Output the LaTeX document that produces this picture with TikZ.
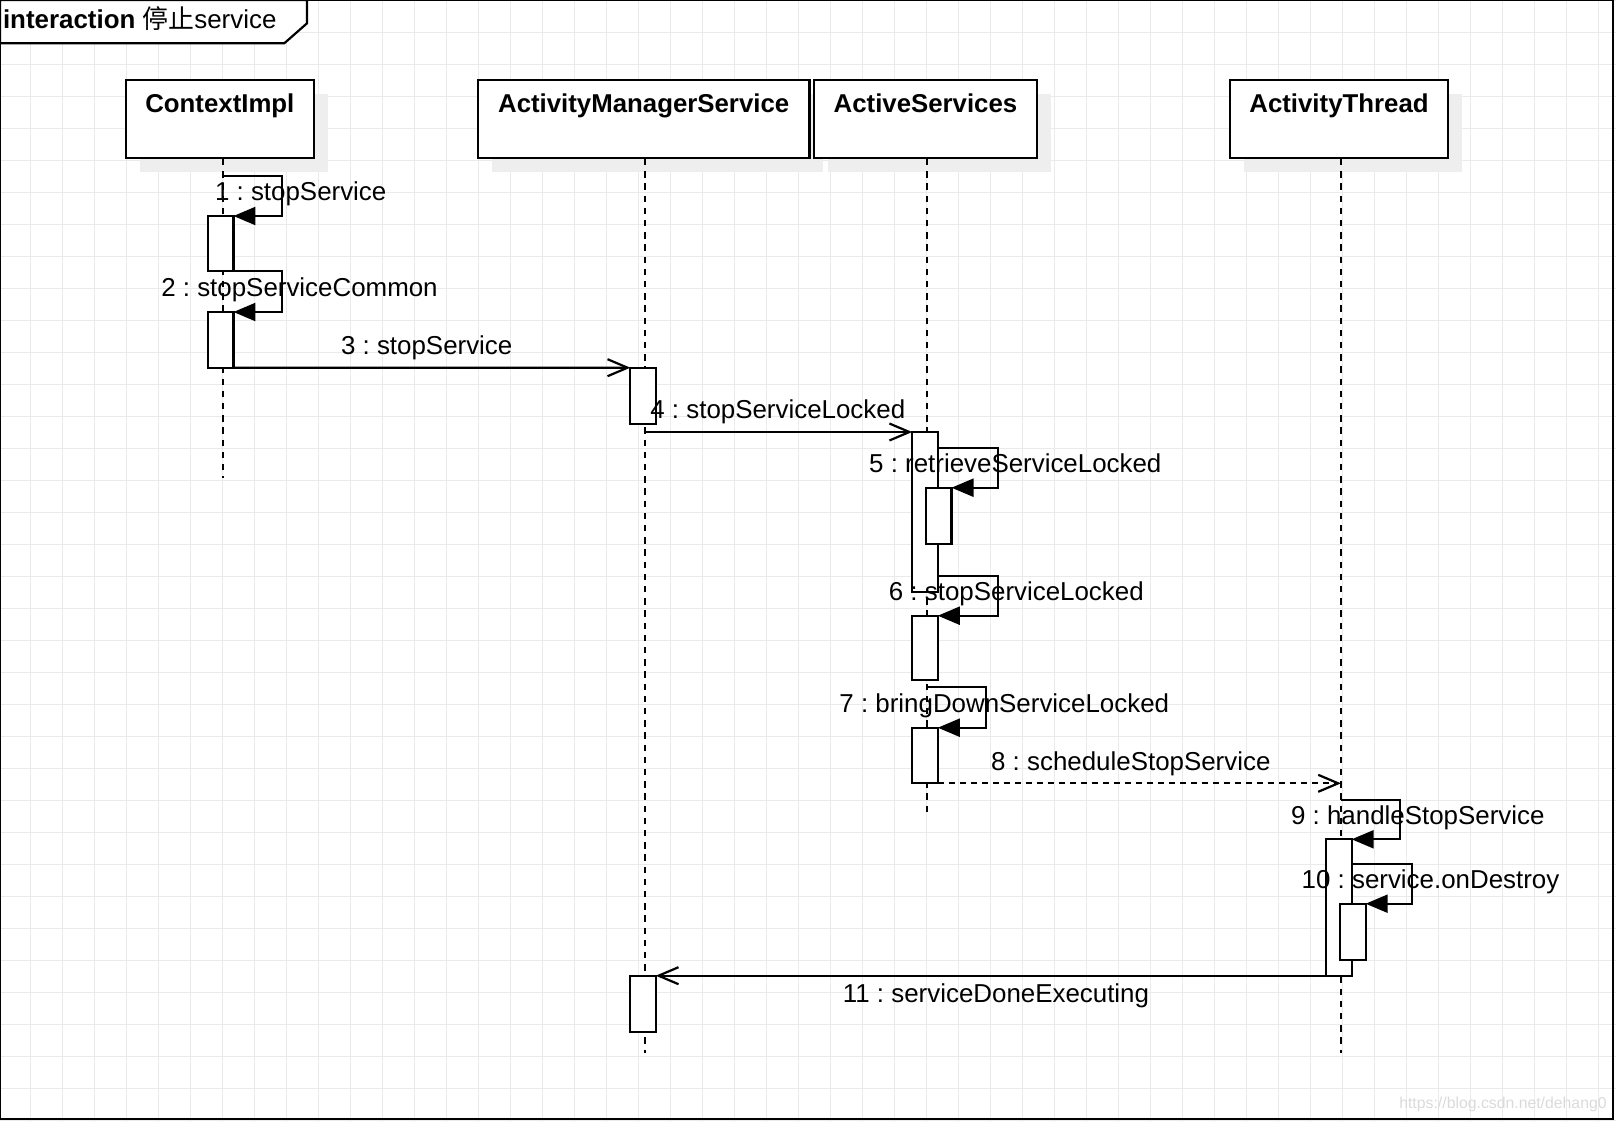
\documentclass[tikz,border=0pt]{standalone}
\usepackage{fontspec}
\setmainfont{Liberation Sans}
\newfontfamily\cjkfont{Noto Sans CJK SC}
\usetikzlibrary{arrows.meta,shadows}
\definecolor{gridc}{HTML}{EAEAEA}
\definecolor{shadowc}{HTML}{EEEEEE}
\definecolor{markc}{HTML}{DADADA}
\frenchspacing
\begin{document}
\begin{tikzpicture}[x=1pt,y=-1pt,
  every node/.style={font=\fontsize{25.9pt}{30pt}\selectfont\frenchspacing, inner sep=0pt, outer sep=0pt},
  head/.style={draw, line width=2.2pt, fill=white,
    general shadow={fill=shadowc, shadow xshift=14pt, shadow yshift=-14pt},
    minimum height=77.7pt},
  headtext/.style={font=\fontsize{25.8pt}{30pt}\selectfont\bfseries, anchor=base},
  lifeline/.style={line width=2pt, dash pattern=on 6.3pt off 5.9pt},
  act/.style={draw, line width=2.2pt, fill=white, minimum width=25.6pt},
  selfmsg/.style={line width=2.2pt, -{Triangle[length=22pt,width=18pt]}},
  callmsg/.style={line width=2.2pt, -{Straight Barb[length=20pt,width=17pt]}},
  retmsg/.style={callmsg, dash pattern=on 6pt off 5pt},
  msglabel/.style={anchor=base},
]
\useasboundingbox (0,0) rectangle (1616,1122);
% grid
\foreach \k in {1,...,50} \draw[gridc, line width=1pt] (32*\k-1.5,0) -- (32*\k-1.5,1122);
\foreach \k in {0,...,35} \draw[gridc, line width=1pt] (0,32*\k+0.3) -- (1616,32*\k+0.3);
% frame
\draw[line width=2.2pt] (0,0) rectangle (1613,1119);
\draw[line width=2.2pt, fill=white] (0,0) -- (307,0) -- (307,23.3) -- (284.3,43.3) -- (0,43.3) -- cycle;
\node[anchor=base west] (title) at (3,28.3) {\textbf{interaction} {\cjkfont 停止}service};

% heads
\node[head, minimum width=188.3pt] (ctx) at (219.85,118.85) {};
\node[head, minimum width=331.4pt] (ams) at (643.7,118.85) {};
\node[head, minimum width=223pt] (as) at (925.5,118.85) {};
\node[head, minimum width=218.6pt] (at) at (1339,118.85) {};
\node[headtext] (ctxT) at (219.85,112.7) {ContextImpl};
\node[headtext] (amsT) at (643.7,112.7) {ActivityManagerService};
\node[headtext] (asT) at (925.5,112.7) {ActiveServices};
\node[headtext] (atT) at (1339,112.7) {ActivityThread};

% lifelines
\coordinate (ctxTop) at (223,159);   \coordinate (ctxBot) at (223,477.7);
\coordinate (amsTop) at (645,159);   \coordinate (amsBot) at (645,1053.3);
\coordinate (asTop) at (926.7,159);  \coordinate (asBot) at (926.7,813.3);
\coordinate (atTop) at (1341,159);   \coordinate (atBot) at (1341,1053.3);
\draw[lifeline] (ctxTop) -- (ctxBot);
\draw[lifeline] (amsTop) -- (amsBot);
\draw[lifeline] (asTop) -- (asBot);
\draw[lifeline] (atTop) -- (atBot);

% activations
\node[act, minimum height=55.3pt] (a1) at (220.65,243.65) {};
\node[act, minimum height=55.7pt] (a2) at (220.65,339.85) {};
\node[act, minimum height=56.3pt] (amsA) at (643.15,395.85) {};
\node[act, minimum height=160pt] (asA) at (925,512) {};
\node[act, minimum height=56.3pt] (asB) at (938.7,515.85) {};
\node[act, minimum height=64pt] (asC) at (925,647.7) {};
\node[act, minimum height=55.6pt] (asD) at (925,755.5) {};
\node[act, minimum height=136.4pt] (atE) at (1338.85,907.5) {};
\node[act, minimum height=56.3pt] (atF) at (1352.85,931.85) {};
\node[act, minimum height=56pt] (amsB) at (642.9,1003.7) {};

% message start / end points
\coordinate (l1s) at (223,175.7);
\coordinate (l5s) at (937.8,448);
\coordinate (l6s) at (937.8,575.7);
\coordinate (l7s) at (926.7,687.3);
\coordinate (l9s) at (1341,800);
\coordinate (l10s) at (1351.65,864);
\coordinate (m4s) at (645,432);
\coordinate (m8e) at (1341,783.3);

% messages
\draw[selfmsg] (l1s) -- ++(59.3,0) |- (a1.north east);
\draw[selfmsg] (a1.south east) -- ++(48.9,0) |- (a2.north east);
\draw[callmsg] (a2.south east) -- (amsA.north west);
\draw[callmsg] (m4s) -- (asA.north west);
\draw[selfmsg] (l5s) -- ++(60.5,0) |- (asB.north east);
\draw[selfmsg] (l6s) -- ++(60.5,0) |- (asC.north east);
\draw[selfmsg] (l7s) -- ++(59,0) |- (asD.north east);
\draw[retmsg] (asD.south east) -- (m8e);
\draw[selfmsg] (l9s) -- ++(59,0) |- (atE.north east);
\draw[selfmsg] (l10s) -- ++(60.3,0) |- (atF.north east);
\draw[callmsg] (atE.south west) -- (amsB.north east);

% labels
\node[msglabel] (t1) at (300.7,200.7) {1 : stopService};
\node[msglabel] (t2) at (299.5,296.7) {2 : stopServiceCommon};
\node[msglabel] (t3) at (426.7,354) {3 : stopService};
\node[msglabel] (t4) at (777.8,418.3) {4 : stopServiceLocked};
\node[msglabel] (t5) at (1015.3,472) {5 : retrieveServiceLocked};
\node[msglabel] (t6) at (1016.3,600) {6 : stopServiceLocked};
\node[msglabel] (t7) at (1004.3,712.3) {7 : bringDownServiceLocked};
\node[msglabel] (t8) at (1130.8,770.7) {8 : scheduleStopService};
\node[msglabel] (t9) at (1417.8,824) {9 : handleStopService};
\node[msglabel] (t10) at (1430.5,888.3) {10 : service.onDestroy};
\node[msglabel] (t11) at (996,1002.7) {11 : serviceDoneExecuting};

% watermark
\node[anchor=base west, text=markc, font=\fontsize{15.8pt}{18pt}\selectfont] (mark) at (1399.3,1108) {https://blog.csdn.net/dehang0};
\end{tikzpicture}
\end{document}
